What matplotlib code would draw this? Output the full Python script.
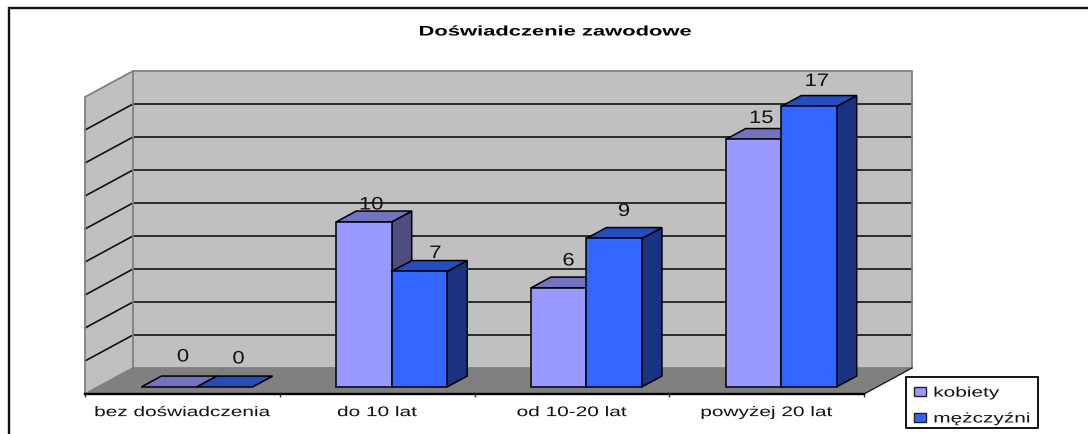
import matplotlib
matplotlib.use("Agg")
import matplotlib.pyplot as plt
import matplotlib.patheffects as pe
from matplotlib.lines import Line2D
from matplotlib.patches import Patch, Polygon, Rectangle
from matplotlib.transforms import Affine2D

plt.rcParams['font.family'] = ['Liberation Sans', 'DejaVu Sans']

# ---- data ----
title = "Doświadczenie zawodowe"
categories = ["bez doświadczenia", "do 10 lat", "od 10-20 lat", "powyżej 20 lat"]
series_names = ["kobiety", "mężczyźni"]
kobiety = [0, 10, 6, 15]
mezczyzni = [0, 7, 9, 17]

W, H = 1088, 435
fig = plt.figure(figsize=(W / 100, H / 100), dpi=100, facecolor="white")


class StretchX(pe.AbstractPathEffect):
    """Widen glyphs horizontally, as in the reference's stretched rendering."""

    def __init__(self, sx, center=True):
        super().__init__()
        self.sx, self.center = sx, center

    def draw_path(self, renderer, gc, tpath, affine, rgbFace=None):
        ext = tpath.get_extents()
        c = (ext.x0 + ext.x1) / 2 if self.center else ext.x0
        m = Affine2D().translate(-c, 0).scale(self.sx, 1).translate(c, 0) + affine
        renderer.draw_path(gc, tpath, m, rgbFace)


def px_rect(x0, y0, x1, y1):
    return [x0 / W, 1 - y1 / H, (x1 - x0) / W, (y1 - y0) / H]


ax = fig.add_axes(px_rect(85, 98, 864, 395))
ax.set_xlim(0, 4)
ax.set_ylim(0, 18)
ax.patch.set_visible(False)
for s in ("top", "left", "right"):
    ax.spines[s].set_visible(False)
ax.spines["bottom"].set_linewidth(1.7)
ax.spines["bottom"].set_zorder(20)
ax.spines["bottom"].set_color("#000000")
ax.set_yticks([])
ax.set_xticks(range(5))
ax.set_xticklabels([])
ax.set_xticks([i + 0.5 for i in range(4)], minor=True)
ax.set_xticklabels(categories, minor=True, fontsize=10, color="#111111")
for t in ax.get_xticklabels(minor=True):
    t.set_path_effects([StretchX(1.5)])
ax.tick_params(axis="x", which="major", length=2.5, width=1, color="#333333")
ax.tick_params(axis="x", which="minor", length=0, pad=8)

# oblique depth: depth 1 moves 48 px right, 26 px up
DX = 48 / (779 / 4)
DY = 26 / (297 / 18)


def P(x, v, d):
    return (x + d * DX, v + d * DY)


def poly(pts, fc, ec="none", lw=0, z=1):
    ax.add_patch(Polygon(pts, closed=True, facecolor=fc, edgecolor=ec, linewidth=lw,
                         zorder=z, clip_on=False, joinstyle="miter"))


WALL, FLOOR, EDGE = "#C0C0C0", "#808080", "#808080"
poly([P(0, 0, 1), P(4, 0, 1), P(4, 18, 1), P(0, 18, 1)], WALL, z=1)
poly([P(0, 0, 0), P(0, 0, 1), P(0, 18, 1), P(0, 18, 0)], WALL, z=1)
poly([P(0, 0, 0), P(4, 0, 0), P(4, 0, 1), P(0, 0, 1)], FLOOR, z=2)

for v in range(2, 18, 2):
    xs, ys = zip(P(0, v, 0), P(0, v, 1), P(4, v, 1))
    ax.plot(xs, ys, color="#111111", lw=1.2, zorder=3, clip_on=False)
for pts in ([P(0, 0, 0), P(0, 18, 0), P(0, 18, 1), P(4, 18, 1), P(4, 0, 1), P(0, 0, 1), P(0, 0, 0)],
            [P(0, 0, 1), P(0, 18, 1)]):
    xs, ys = zip(*pts)
    ax.plot(xs, ys, color=EDGE, lw=1.3, zorder=4, clip_on=False)
xs, ys = zip(P(4, 0, 0), P(4, 0, 1))
ax.plot(xs, ys, color="#222222", lw=1.0, zorder=4, clip_on=False)

D0, D1 = 0.27, 0.69
BAR_L, BAR_W = 0.2225, 0.285
styles = [("#9999FF", "#7373BF", "#4D4D80"), ("#3366FF", "#264DBF", "#1A3380")]
label_nudge = [
    [(14, 30), (7.5, 17), (10, 27), (8, 21)],
    [(14, 28), (16, 18), (10, 27), (8, 25)],
]

for i in range(len(categories)):
    for s, vals in enumerate((kobiety, mezczyzni)):
        v = vals[i]
        x0 = i + BAR_L + s * BAR_W
        x1 = x0 + BAR_W
        front, top, side = styles[s]
        z = 5 + i * 2 + s * 0.5
        poly([P(x1, 0, D0), P(x1, 0, D1), P(x1, v, D1), P(x1, v, D0)], side, "#000000", 1.1, z)
        poly([P(x0, v, D0), P(x1, v, D0), P(x1, v, D1), P(x0, v, D1)], top, "#000000", 1.1, z)
        if v > 0:
            poly([P(x0, 0, D0), P(x1, 0, D0), P(x1, v, D0), P(x0, v, D0)], front, "#000000", 1.1, z + 0.1)
        nx, ny = label_nudge[s][i]
        cx, cy = P((x0 + x1) / 2, v, D0)
        ann = ax.annotate(str(v), (cx, cy), xytext=(nx * 0.72, ny * 0.72), textcoords="offset points",
                          ha="center", va="center", fontsize=13, color="#111111", zorder=30,
                          annotation_clip=False)
        ann.set_path_effects([StretchX(1.22)])

ttl = fig.text(555 / W, 1 - 32.5 / H, title, ha="center", va="center", fontsize=10,
               fontweight="bold", color="#000000")
ttl.set_path_effects([StretchX(1.58)])

# outer frame: left and top edges only reach the picture
fig.add_artist(Line2D([8.5 / W, 8.5 / W, 1], [0, 1 - 9 / H, 1 - 9 / H],
                      color="#111111", lw=1.7, solid_joinstyle="miter"))

# legend frame
fig.add_artist(Rectangle((906 / W, 1 - 429 / H), 132 / W, 51 / H, transform=fig.transFigure,
                         facecolor="white", edgecolor="#000000", linewidth=1.3))
handles = [Patch(facecolor=styles[i][0], edgecolor="#222222", linewidth=1.0) for i in range(2)]
leg = fig.legend(handles, series_names, loc="lower left",
                 bbox_to_anchor=(908 / W, 1 - 432 / H, 130 / W, 51 / H), mode="expand",
                 fontsize=10, frameon=False,
                 borderaxespad=0, borderpad=0.4, labelspacing=0.85, handlelength=0.9,
                 handleheight=0.65, handletextpad=0.55, labelcolor="#111111")
leg.set_zorder(50)
for t in leg.get_texts():
    t.set_path_effects([StretchX(1.5, center=False)])

fig.savefig("out.png", dpi=100, facecolor="white")
